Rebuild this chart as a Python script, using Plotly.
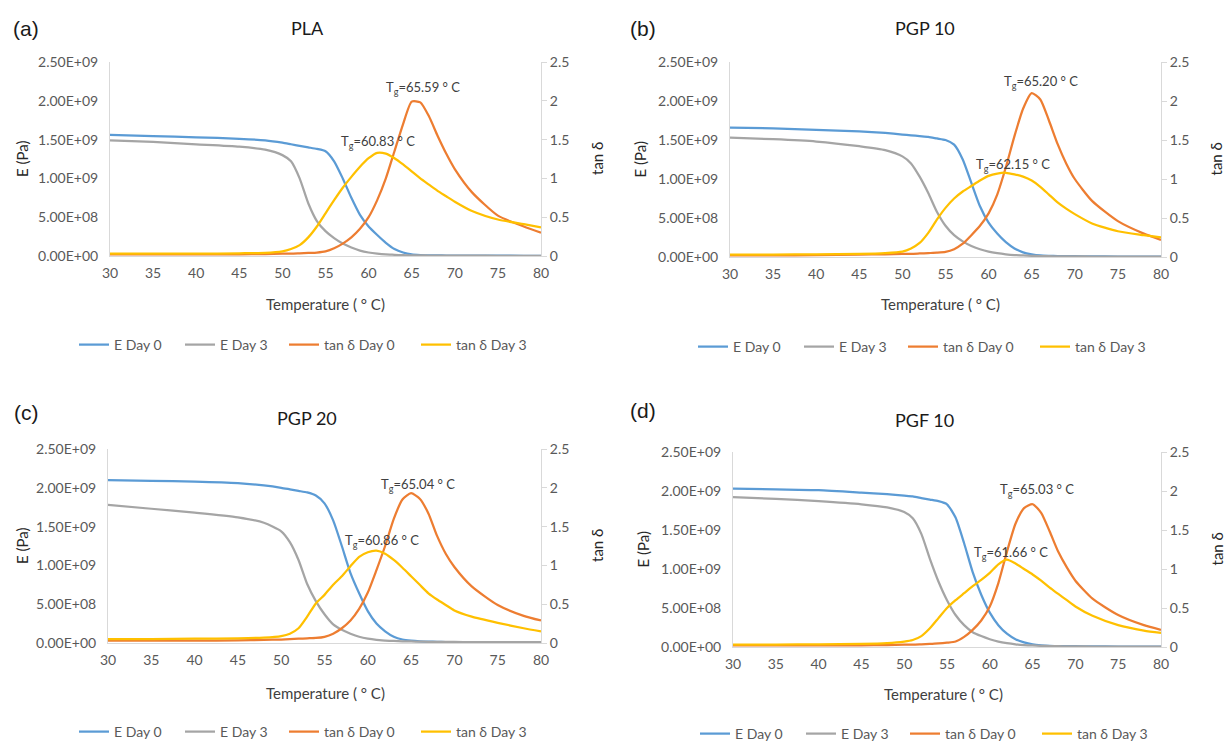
import plotly.graph_objects as go

# Temperature grid (°C)
temp = [30, 35, 40, 45, 48, 50, 51, 52, 53, 54, 55, 56, 57, 58, 59, 60,
        61, 62, 63, 64, 65, 66, 67, 68, 69, 70, 72, 75, 78, 80]

# ---- (a) PLA ----
pla_e_day0 = [1.56e9, 1.545e9, 1.53e9, 1.51e9, 1.49e9, 1.46e9, 1.44e9, 1.42e9, 1.40e9, 1.38e9,
              1.35e9, 1.22e9, 1.00e9, 0.75e9, 0.53e9, 0.38e9, 0.27e9, 0.17e9, 0.09e9, 0.045e9,
              0.02e9, 0.012e9, 0.009e9, 0.007e9, 0.006e9, 0.005e9, 0.004e9, 0.004e9, 0.003e9, 0.003e9]
pla_e_day3 = [1.49e9, 1.47e9, 1.44e9, 1.41e9, 1.37e9, 1.30e9, 1.22e9, 1.00e9, 0.68e9, 0.45e9,
              0.32e9, 0.23e9, 0.16e9, 0.11e9, 0.07e9, 0.045e9, 0.03e9, 0.02e9, 0.015e9, 0.01e9,
              0.008e9, 0.007e9, 0.006e9, 0.005e9, 0.005e9, 0.004e9, 0.004e9, 0.003e9, 0.003e9, 0.003e9]
pla_tan_day0 = [0.02, 0.02, 0.02, 0.022, 0.025, 0.03, 0.03, 0.035, 0.04, 0.045,
                0.06, 0.10, 0.16, 0.24, 0.35, 0.50, 0.72, 1.00, 1.35, 1.70,
                1.99, 1.98, 1.80, 1.55, 1.32, 1.12, 0.82, 0.52, 0.38, 0.30]
pla_tan_day3 = [0.03, 0.03, 0.03, 0.035, 0.04, 0.06, 0.09, 0.14, 0.24, 0.38,
                0.55, 0.72, 0.88, 1.02, 1.15, 1.26, 1.33, 1.32, 1.26, 1.18,
                1.09, 1.00, 0.92, 0.84, 0.77, 0.70, 0.58, 0.47, 0.41, 0.37]

# ---- (b) PGP 10 ----
pgp10_e_day0 = [1.66e9, 1.65e9, 1.63e9, 1.61e9, 1.59e9, 1.57e9, 1.56e9, 1.55e9, 1.54e9, 1.52e9,
                1.50e9, 1.44e9, 1.25e9, 0.95e9, 0.65e9, 0.44e9, 0.30e9, 0.19e9, 0.11e9, 0.06e9,
                0.035e9, 0.02e9, 0.015e9, 0.012e9, 0.01e9, 0.01e9, 0.008e9, 0.006e9, 0.005e9, 0.005e9]
pgp10_e_day3 = [1.53e9, 1.51e9, 1.48e9, 1.42e9, 1.37e9, 1.29e9, 1.20e9, 1.03e9, 0.82e9, 0.58e9,
                0.40e9, 0.28e9, 0.20e9, 0.14e9, 0.10e9, 0.07e9, 0.05e9, 0.035e9, 0.025e9, 0.02e9,
                0.015e9, 0.012e9, 0.01e9, 0.009e9, 0.008e9, 0.007e9, 0.006e9, 0.005e9, 0.005e9, 0.005e9]
pgp10_tan_day0 = [0.02, 0.02, 0.025, 0.03, 0.035, 0.04, 0.04, 0.045, 0.05, 0.055,
                  0.065, 0.10, 0.17, 0.28, 0.40, 0.56, 0.80, 1.15, 1.55, 1.90,
                  2.10, 2.02, 1.75, 1.45, 1.20, 1.00, 0.72, 0.46, 0.30, 0.22]
pgp10_tan_day3 = [0.03, 0.03, 0.035, 0.04, 0.05, 0.07, 0.11, 0.18, 0.31, 0.48,
                  0.63, 0.75, 0.84, 0.91, 0.98, 1.04, 1.07, 1.08, 1.06, 1.03,
                  0.98, 0.90, 0.80, 0.70, 0.62, 0.55, 0.43, 0.33, 0.28, 0.25]

# ---- (c) PGP 20 ----
pgp20_e_day0 = [2.10e9, 2.09e9, 2.08e9, 2.06e9, 2.03e9, 2.00e9, 1.98e9, 1.96e9, 1.94e9, 1.90e9,
                1.80e9, 1.58e9, 1.25e9, 0.90e9, 0.64e9, 0.41e9, 0.25e9, 0.15e9, 0.08e9, 0.045e9,
                0.03e9, 0.022e9, 0.018e9, 0.015e9, 0.012e9, 0.01e9, 0.01e9, 0.008e9, 0.007e9, 0.007e9]
pgp20_e_day3 = [1.78e9, 1.73e9, 1.68e9, 1.62e9, 1.55e9, 1.44e9, 1.30e9, 1.07e9, 0.76e9, 0.54e9,
                0.37e9, 0.24e9, 0.17e9, 0.12e9, 0.08e9, 0.055e9, 0.04e9, 0.032e9, 0.026e9, 0.022e9,
                0.02e9, 0.018e9, 0.016e9, 0.015e9, 0.014e9, 0.013e9, 0.012e9, 0.011e9, 0.01e9, 0.01e9]
pgp20_tan_day0 = [0.03, 0.03, 0.03, 0.035, 0.04, 0.045, 0.05, 0.055, 0.06, 0.065,
                  0.08, 0.12, 0.19, 0.29, 0.44, 0.65, 0.94, 1.25, 1.60, 1.85,
                  1.93, 1.86, 1.67, 1.38, 1.15, 0.98, 0.73, 0.49, 0.35, 0.29]
pgp20_tan_day3 = [0.05, 0.05, 0.055, 0.06, 0.07, 0.09, 0.12, 0.19, 0.34, 0.51,
                  0.62, 0.75, 0.86, 0.99, 1.11, 1.17, 1.19, 1.15, 1.07, 0.97,
                  0.86, 0.75, 0.64, 0.56, 0.49, 0.42, 0.34, 0.26, 0.19, 0.15]

# ---- (d) PGF 10 ----
pgf10_e_day0 = [2.03e9, 2.02e9, 2.01e9, 1.98e9, 1.96e9, 1.94e9, 1.93e9, 1.91e9, 1.89e9, 1.87e9,
                1.83e9, 1.66e9, 1.33e9, 0.96e9, 0.67e9, 0.44e9, 0.28e9, 0.17e9, 0.10e9, 0.06e9,
                0.035e9, 0.022e9, 0.015e9, 0.012e9, 0.01e9, 0.01e9, 0.008e9, 0.006e9, 0.005e9, 0.005e9]
pgf10_e_day3 = [1.92e9, 1.90e9, 1.87e9, 1.83e9, 1.79e9, 1.73e9, 1.65e9, 1.45e9, 1.13e9, 0.84e9,
                0.60e9, 0.41e9, 0.28e9, 0.19e9, 0.14e9, 0.10e9, 0.07e9, 0.05e9, 0.035e9, 0.025e9,
                0.02e9, 0.015e9, 0.012e9, 0.01e9, 0.008e9, 0.007e9, 0.006e9, 0.005e9, 0.004e9, 0.004e9]
pgf10_tan_day0 = [0.02, 0.02, 0.02, 0.022, 0.025, 0.03, 0.03, 0.035, 0.04, 0.045,
                  0.055, 0.07, 0.13, 0.22, 0.34, 0.52, 0.82, 1.22, 1.58, 1.78,
                  1.83, 1.72, 1.48, 1.22, 1.02, 0.85, 0.62, 0.41, 0.28, 0.22]
pgf10_tan_day3 = [0.03, 0.03, 0.035, 0.04, 0.05, 0.07, 0.09, 0.14, 0.24, 0.37,
                  0.50, 0.60, 0.69, 0.78, 0.86, 0.95, 1.06, 1.12, 1.07, 1.00,
                  0.93, 0.85, 0.76, 0.68, 0.60, 0.52, 0.40, 0.28, 0.21, 0.18]

panel_letters = ["(a)", "(b)", "(c)", "(d)"]
panel_titles = ["PLA", "PGP 10", "PGP 20", "PGF 10"]
series_names = ["E Day 0", "E Day 3", "tan δ Day 0", "tan δ Day 3"]
tg_day0 = ["65.59", "65.20", "65.04", "65.03"]
tg_day3 = ["60.83", "62.15", "60.86", "61.66"]
# annotation anchor (T, tan δ) for the Tg labels
tg_day0_pos = [(61.8, 2.17), (61.5, 2.25), (61.3, 2.03), (61.0, 2.01)]
tg_day3_pos = [(56.6, 1.47), (58.3, 1.18), (57.1, 1.32), (57.9, 1.21)]

e_tickvals = [0, 5e8, 1e9, 1.5e9, 2e9, 2.5e9]
e_ticktext = ["0.00E+00", "5.00E+08", "1.00E+09", "1.50E+09", "2.00E+09", "2.50E+09"]

panels = [
    (pla_e_day0, pla_e_day3, pla_tan_day0, pla_tan_day3),
    (pgp10_e_day0, pgp10_e_day3, pgp10_tan_day0, pgp10_tan_day3),
    (pgp20_e_day0, pgp20_e_day3, pgp20_tan_day0, pgp20_tan_day3),
    (pgf10_e_day0, pgf10_e_day3, pgf10_tan_day0, pgf10_tan_day3),
]

colors = ["#5B9BD5", "#A5A5A5", "#ED7D31", "#FFC000"]
legend_widths = [61, 59, 87, 80]

W, H = 1225, 741


def px(x):
    return x / W


def py(y):
    return 1 - y / H


# plot areas in window pixels: (left, right, top, bottom)
areas = [(110, 541, 62, 256), (730, 1161, 62, 257), (108, 541, 449, 643), (733, 1161, 452, 647)]
legend_y = [345, 347, 732, 734]
legend_x0 = [74, 693, 74, 695]
title_pos = [(307, 28), (925, 28), (307, 418), (925, 420)]
letter_pos = [(26, 28), (643, 28), (26, 412), (643, 410)]
xtitle_pos = [(325, 304), (940, 304), (325, 693), (943, 694)]
ylab_left_x = [22, 640, 22, 642]
ylab_right_x = [597, 1216, 597, 1216]

FONT = "Lato"
TICKC = "#595959"
AXC = "#D9D9D9"

fig = go.Figure()
layout = dict(width=W, height=H, margin=dict(l=0, r=0, t=0, b=0, autoexpand=False),
              paper_bgcolor="white", plot_bgcolor="white", showlegend=True,
              font=dict(family=FONT, color=TICKC, size=14))
annotations = []

for i, data in enumerate(panels):
    xa = f"x{i+1}"
    yl = f"y{2*i+1}"
    yr = f"y{2*i+2}"
    leg = "legend" if i == 0 else f"legend{i+1}"
    for j in range(4):
        fig.add_trace(go.Scatter(
            x=temp, y=data[j], mode="lines", name=series_names[j],
            line=dict(color=colors[j], width=2.25, shape="spline", smoothing=0.6),
            xaxis=xa, yaxis=yl if j < 2 else yr, legend=leg,
            legendwidth=legend_widths[j]))
    l, r, t, b = areas[i]
    xd = [px(l), px(r)]
    yd = [py(b), py(t)]
    xkey = "xaxis" if i == 0 else f"xaxis{i+1}"
    ylkey = f"yaxis{2*i+1}" if i > 0 else "yaxis"
    yrkey = f"yaxis{2*i+2}"
    layout[xkey] = dict(domain=xd, anchor=yl, range=[30, 80], tick0=30, dtick=5,
                        showgrid=False, zeroline=False, showline=True, linecolor=AXC,
                        linewidth=1, ticks="", tickfont=dict(size=14, color=TICKC),
                        ticklabelstandoff=4, automargin=False)
    layout[ylkey] = dict(domain=yd, anchor=xa, range=[0, 2.5e9], tickvals=e_tickvals,
                         ticktext=e_ticktext, showgrid=False, zeroline=False, showline=True,
                         linecolor=AXC, linewidth=1, ticks="", automargin=False,
                         tickfont=dict(size=14, color=TICKC), ticklabelstandoff=8)
    layout[yrkey] = dict(domain=yd, anchor=xa, overlaying=yl, side="right", range=[0, 2.5],
                         tick0=0, dtick=0.5, showgrid=False, zeroline=False, showline=True,
                         linecolor=AXC, linewidth=1, ticks="outside", ticklen=5, tickcolor=AXC,
                         tickfont=dict(size=14, color=TICKC), automargin=False)
    layout[leg] = dict(orientation="h", x=px(legend_x0[i]), xanchor="left",
                       y=py(legend_y[i]), yanchor="middle", bgcolor="rgba(0,0,0,0)",
                       font=dict(size=14, color=TICKC, family=FONT), itemwidth=30)
    # titles and labels
    tx, ty = title_pos[i]
    annotations.append(dict(text=panel_titles[i], x=px(tx), y=py(ty),
                            xref="paper", yref="paper", showarrow=False, xanchor="center",
                            yanchor="middle", font=dict(size=18, color="#1a1a1a", family=FONT)))
    lx, lyy = letter_pos[i]
    annotations.append(dict(text=panel_letters[i], x=px(lx), y=py(lyy), xref="paper",
                            yref="paper", showarrow=False, xanchor="center", yanchor="middle",
                            font=dict(size=21, color="#1a1a1a", family="Liberation Sans")))
    xx, xy = xtitle_pos[i]
    annotations.append(dict(text="Temperature ( ° C)", x=px(xx), y=py(xy),
                            xref="paper", yref="paper", showarrow=False,
                            xanchor="center", yanchor="middle",
                            font=dict(size=15, color="#404040", family=FONT)))
    annotations.append(dict(text="E (Pa)", x=px(ylab_left_x[i]), y=py((t + b) / 2),
                            xref="paper", yref="paper", showarrow=False, textangle=-90,
                            xanchor="center", yanchor="middle",
                            font=dict(size=15, color="#262626", family=FONT)))
    annotations.append(dict(text="tan δ", x=px(ylab_right_x[i]), y=py((t + b) / 2),
                            xref="paper", yref="paper", showarrow=False, textangle=-90,
                            xanchor="center", yanchor="middle",
                            font=dict(size=15, color="#262626", family=FONT)))
    # Tg labels
    for txt, pos in ((tg_day0[i], tg_day0_pos[i]), (tg_day3[i], tg_day3_pos[i])):
        annotations.append(dict(text=f"T<sub>g</sub>={txt} ° C", x=pos[0], y=pos[1],
                                xref=xa, yref=yr, showarrow=False, xanchor="left",
                                yanchor="middle",
                                font=dict(size=13, color="#404040", family=FONT)))

layout["annotations"] = annotations
fig.update_layout(**layout)
fig.write_html("out.html", config={"displayModeBar": False},
               post_script="document.body.style.margin='0';document.body.style.overflow='hidden';")
